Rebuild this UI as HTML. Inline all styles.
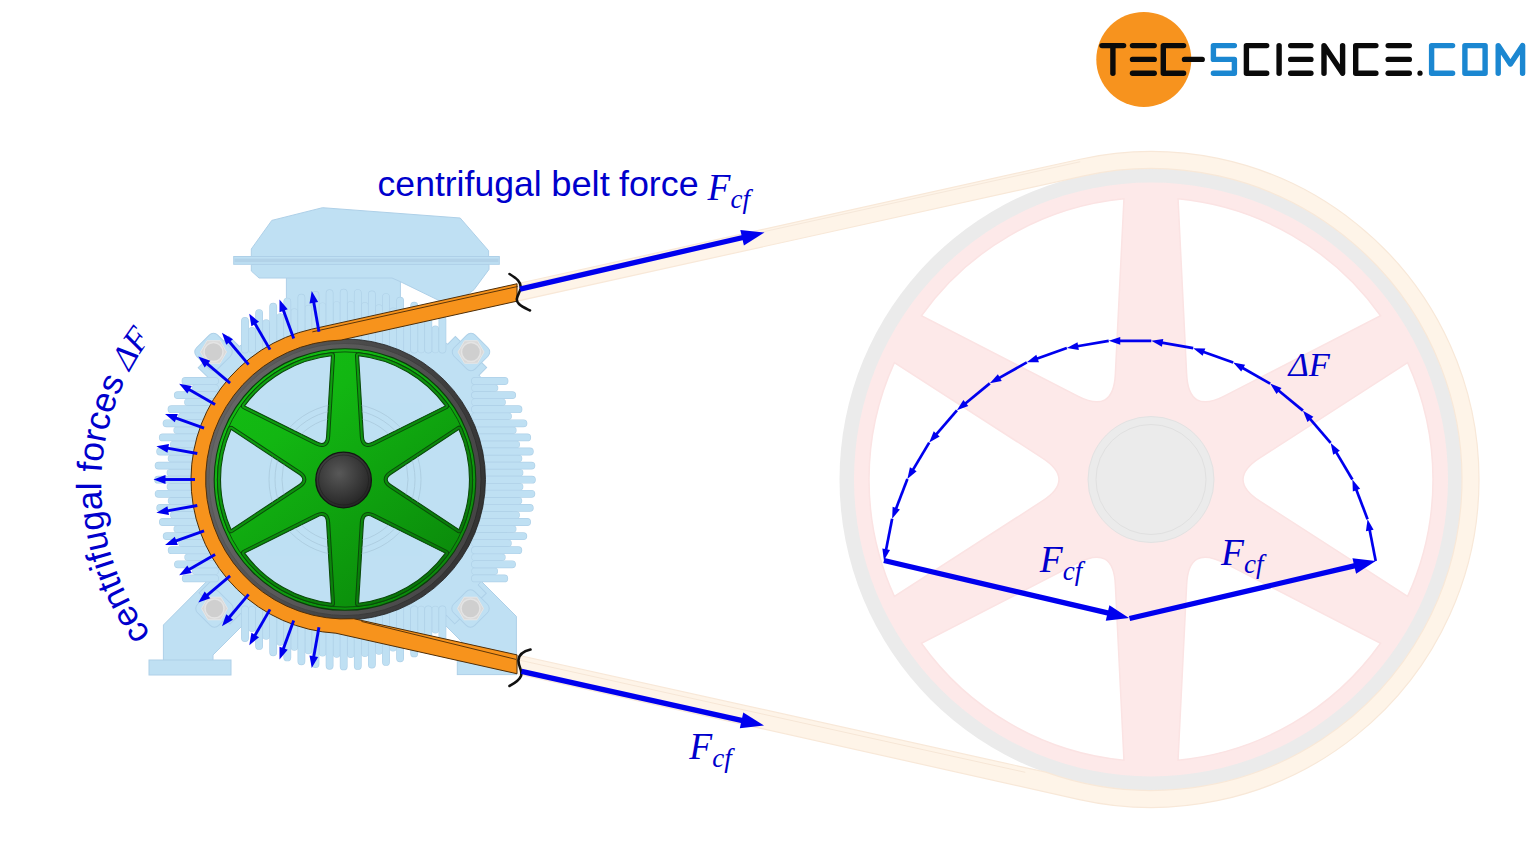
<!DOCTYPE html>
<html><head><meta charset="utf-8"><style>
html,body{margin:0;padding:0;background:#fff;}
svg{display:block;}
</style></head><body>
<svg width="1536" height="864" viewBox="0 0 1536 864">
<rect width="1536" height="864" fill="#fff"/>
<g id="bigpulley">
<circle cx="1151" cy="479.5" r="311.5" fill="#ebebeb"/>
<circle cx="1151" cy="479.5" r="297" fill="#fde9e9"/>
<path d="M1259.84,457.83 L1407.62,362.57 A282,282 0 0,1 1407.62,596.43 L1259.84,501.17 Q1226.22,479.5 1259.84,457.83Z" fill="#ffffff" stroke="#fbe3e3" stroke-width="1.5"/>
<path d="M1224.19,562.92 L1380.57,643.27 A282,282 0 0,1 1178.05,760.2 L1186.65,584.59 Q1188.61,544.64 1224.19,562.92Z" fill="#ffffff" stroke="#fbe3e3" stroke-width="1.5"/>
<path d="M1115.35,584.59 L1123.95,760.2 A282,282 0 0,1 921.43,643.27 L1077.81,562.92 Q1113.39,544.64 1115.35,584.59Z" fill="#ffffff" stroke="#fbe3e3" stroke-width="1.5"/>
<path d="M1042.16,501.17 L894.38,596.43 A282,282 0 0,1 894.38,362.57 L1042.16,457.83 Q1075.78,479.5 1042.16,501.17Z" fill="#ffffff" stroke="#fbe3e3" stroke-width="1.5"/>
<path d="M1077.81,396.08 L921.43,315.73 A282,282 0 0,1 1123.95,198.8 L1115.35,374.41 Q1113.39,414.36 1077.81,396.08Z" fill="#ffffff" stroke="#fbe3e3" stroke-width="1.5"/>
<path d="M1186.65,374.41 L1178.05,198.8 A282,282 0 0,1 1380.57,315.73 L1224.19,396.08 Q1188.61,414.36 1186.65,374.41Z" fill="#ffffff" stroke="#fbe3e3" stroke-width="1.5"/>
<circle cx="1151" cy="479.5" r="63" fill="#ebebeb" stroke="#e2e2e2" stroke-width="1"/>
<circle cx="1151" cy="479.5" r="55" fill="none" stroke="#e0e0e0" stroke-width="1"/>
</g>
<path d="M517,283.75 L1080.19,159.23 A328,328 0 1,1 1079.38,799.58 L517,673.75 L517,654.9 L1045.79,772.16 A311,311 0 1,0 1083.86,175.83 L517,301.16 Z" fill="#fef4e8" stroke="#f8e8d8" stroke-width="1.2"/>
<path d="M517,286.25 L1080.19,161.73" stroke="#f6e8da" stroke-width="1" fill="none"/>
<path d="M516,659.39 L1025.27,772.32" stroke="#f6e6d6" stroke-width="1" fill="none"/>
<g fill="#bfe0f3" stroke="#aed0e8" stroke-width="1">
<polygon points="163.4,661 163.4,625 230,558 270,598 213,655 213,661"/>
<rect x="149" y="660" width="82" height="15"/>
<polygon points="516.4,661 516.4,616.4 460,560 420,600 466,646 466,661"/>
<rect x="457.3" y="661.6" width="59.1" height="13"/>
</g>
<g fill="#bfe0f3" stroke="#aed0e8" stroke-width="1">
<rect x="286.4" y="270" width="114" height="60"/>
<polygon points="251.3,264.3 251.3,271 259,278 392,278 400,281.5 440,301 460,300 474,289.7 489,269.4 489,264.3"/>
<polygon points="251.3,256.5 251.3,249 271.8,220.4 322.5,207.7 460.2,218 488.6,250.7 488.6,256.5"/>
<rect x="233.7" y="256.5" width="265.6" height="7.8"/>
<rect x="234.5" y="258.6" width="264" height="3.6" fill="#b2d2e8" stroke="none"/>
</g>
<circle cx="345" cy="479.5" r="170" fill="#bfe0f3" stroke="#aed0e8" stroke-width="1"/>
<rect x="345" y="457.5" width="183.16" height="44" transform="rotate(-135.88 345 479.5)" fill="#bfe0f3" stroke="#aed0e8" stroke-width="1"/>
<rect x="345" y="457.5" width="179.25" height="44" transform="rotate(-45.34 345 479.5)" fill="#bfe0f3" stroke="#aed0e8" stroke-width="1"/>
<rect x="345" y="457.5" width="183.5" height="44" transform="rotate(135.33 345 479.5)" fill="#bfe0f3" stroke="#aed0e8" stroke-width="1"/>
<rect x="345" y="457.5" width="179.98" height="44" transform="rotate(45.79 345 479.5)" fill="#bfe0f3" stroke="#aed0e8" stroke-width="1"/>
<circle cx="345" cy="479.5" r="169.5" fill="#bfe0f3"/>
<path d="M252.05,349.5 L252.05,330.86 M266.15,349.5 L266.15,323.11 M280.25,349.5 L280.25,316.91 M294.35,349.5 L294.35,312.09 M308.45,349.5 L308.45,308.53 M322.55,349.5 L322.55,306.17 M336.65,349.5 L336.65,304.95 M350.75,349.5 L350.75,304.84 M364.85,349.5 L364.85,305.86 M378.95,349.5 L378.95,308.01 M393.05,349.5 L393.05,311.34 M407.15,349.5 L407.15,315.92 M421.25,349.5 L421.25,321.86 M435.35,349.5 L435.35,329.3 M252.05,609.5 L252.05,628.14 M266.15,609.5 L266.15,635.89 M280.25,609.5 L280.25,642.09 M294.35,609.5 L294.35,646.91 M308.45,609.5 L308.45,650.47 M322.55,609.5 L322.55,652.83 M336.65,609.5 L336.65,654.05 M350.75,609.5 L350.75,654.16 M364.85,609.5 L364.85,653.14 M378.95,609.5 L378.95,650.99 M393.05,609.5 L393.05,647.66 M407.15,609.5 L407.15,643.08 M421.25,609.5 L421.25,637.14 M435.35,609.5 L435.35,629.7 M215,388.05 L195.46,388.05 M215,402.15 L187.88,402.15 M215,416.25 L181.83,416.25 M215,430.35 L177.15,430.35 M215,444.45 L173.73,444.45 M215,458.55 L171.48,458.55 M215,472.65 L170.38,472.65 M215,486.75 L170.4,486.75 M215,500.85 L171.53,500.85 M215,514.95 L173.81,514.95 M215,529.05 L177.27,529.05 M215,543.15 L181.98,543.15 M215,557.25 L188.07,557.25 M215,571.35 L195.7,571.35 M475,388.05 L494.54,388.05 M475,402.15 L502.12,402.15 M475,416.25 L508.17,416.25 M475,430.35 L512.85,430.35 M475,444.45 L516.27,444.45 M475,458.55 L518.52,458.55 M475,472.65 L519.62,472.65 M475,486.75 L519.6,486.75 M475,500.85 L518.47,500.85 M475,514.95 L516.19,514.95 M475,529.05 L512.73,529.05 M475,543.15 L508.02,543.15 M475,557.25 L501.93,557.25 M475,571.35 L494.3,571.35" stroke="#b4d5ea" stroke-width="7.5" stroke-linecap="round" fill="none"/><path d="M252.05,349.5 L252.05,330.86 M266.15,349.5 L266.15,323.11 M280.25,349.5 L280.25,316.91 M294.35,349.5 L294.35,312.09 M308.45,349.5 L308.45,308.53 M322.55,349.5 L322.55,306.17 M336.65,349.5 L336.65,304.95 M350.75,349.5 L350.75,304.84 M364.85,349.5 L364.85,305.86 M378.95,349.5 L378.95,308.01 M393.05,349.5 L393.05,311.34 M407.15,349.5 L407.15,315.92 M421.25,349.5 L421.25,321.86 M435.35,349.5 L435.35,329.3 M252.05,609.5 L252.05,628.14 M266.15,609.5 L266.15,635.89 M280.25,609.5 L280.25,642.09 M294.35,609.5 L294.35,646.91 M308.45,609.5 L308.45,650.47 M322.55,609.5 L322.55,652.83 M336.65,609.5 L336.65,654.05 M350.75,609.5 L350.75,654.16 M364.85,609.5 L364.85,653.14 M378.95,609.5 L378.95,650.99 M393.05,609.5 L393.05,647.66 M407.15,609.5 L407.15,643.08 M421.25,609.5 L421.25,637.14 M435.35,609.5 L435.35,629.7 M215,388.05 L195.46,388.05 M215,402.15 L187.88,402.15 M215,416.25 L181.83,416.25 M215,430.35 L177.15,430.35 M215,444.45 L173.73,444.45 M215,458.55 L171.48,458.55 M215,472.65 L170.38,472.65 M215,486.75 L170.4,486.75 M215,500.85 L171.53,500.85 M215,514.95 L173.81,514.95 M215,529.05 L177.27,529.05 M215,543.15 L181.98,543.15 M215,557.25 L188.07,557.25 M215,571.35 L195.7,571.35 M475,388.05 L494.54,388.05 M475,402.15 L502.12,402.15 M475,416.25 L508.17,416.25 M475,430.35 L512.85,430.35 M475,444.45 L516.27,444.45 M475,458.55 L518.52,458.55 M475,472.65 L519.62,472.65 M475,486.75 L519.6,486.75 M475,500.85 L518.47,500.85 M475,514.95 L516.19,514.95 M475,529.05 L512.73,529.05 M475,543.15 L508.02,543.15 M475,557.25 L501.93,557.25 M475,571.35 L494.3,571.35" stroke="#bfe0f3" stroke-width="6.2" stroke-linecap="round" fill="none"/>
<path d="M245,349.5 L245,320.9 M259.1,349.5 L259.1,313.03 M273.2,349.5 L273.2,306.63 M287.3,349.5 L287.3,301.53 M301.4,349.5 L301.4,297.65 M315.5,349.5 L315.5,294.89 M329.6,349.5 L329.6,293.22 M343.7,349.5 L343.7,292.6 M357.8,349.5 L357.8,293.03 M371.9,349.5 L371.9,294.51 M386,349.5 L386,297.06 M400.1,349.5 L400.1,300.73 M414.2,349.5 L414.2,305.59 M428.3,349.5 L428.3,311.74 M442.4,349.5 L442.4,319.33 M245,609.5 L245,638.1 M259.1,609.5 L259.1,645.97 M273.2,609.5 L273.2,652.37 M287.3,609.5 L287.3,657.47 M301.4,609.5 L301.4,661.35 M315.5,609.5 L315.5,664.11 M329.6,609.5 L329.6,665.78 M343.7,609.5 L343.7,666.4 M357.8,609.5 L357.8,665.97 M371.9,609.5 L371.9,664.49 M386,609.5 L386,661.94 M400.1,609.5 L400.1,658.27 M414.2,609.5 L414.2,653.41 M428.3,609.5 L428.3,647.26 M442.4,609.5 L442.4,639.67 M215,381 L185.49,381 M215,395.1 L177.78,395.1 M215,409.2 L171.52,409.2 M215,423.3 L166.56,423.3 M215,437.4 L162.8,437.4 M215,451.5 L160.17,451.5 M215,465.6 L158.61,465.6 M215,479.7 L158.1,479.7 M215,493.8 L158.64,493.8 M215,507.9 L160.23,507.9 M215,522 L162.89,522 M215,536.1 L166.69,536.1 M215,550.2 L171.68,550.2 M215,564.3 L177.98,564.3 M215,578.4 L185.73,578.4 M475,381 L504.51,381 M475,395.1 L512.22,395.1 M475,409.2 L518.48,409.2 M475,423.3 L523.44,423.3 M475,437.4 L527.2,437.4 M475,451.5 L529.83,451.5 M475,465.6 L531.39,465.6 M475,479.7 L531.9,479.7 M475,493.8 L531.36,493.8 M475,507.9 L529.77,507.9 M475,522 L527.11,522 M475,536.1 L523.31,536.1 M475,550.2 L518.32,550.2 M475,564.3 L512.02,564.3 M475,578.4 L504.27,578.4" stroke="#afd1e8" stroke-width="7.8" stroke-linecap="round" fill="none"/><path d="M245,349.5 L245,320.9 M259.1,349.5 L259.1,313.03 M273.2,349.5 L273.2,306.63 M287.3,349.5 L287.3,301.53 M301.4,349.5 L301.4,297.65 M315.5,349.5 L315.5,294.89 M329.6,349.5 L329.6,293.22 M343.7,349.5 L343.7,292.6 M357.8,349.5 L357.8,293.03 M371.9,349.5 L371.9,294.51 M386,349.5 L386,297.06 M400.1,349.5 L400.1,300.73 M414.2,349.5 L414.2,305.59 M428.3,349.5 L428.3,311.74 M442.4,349.5 L442.4,319.33 M245,609.5 L245,638.1 M259.1,609.5 L259.1,645.97 M273.2,609.5 L273.2,652.37 M287.3,609.5 L287.3,657.47 M301.4,609.5 L301.4,661.35 M315.5,609.5 L315.5,664.11 M329.6,609.5 L329.6,665.78 M343.7,609.5 L343.7,666.4 M357.8,609.5 L357.8,665.97 M371.9,609.5 L371.9,664.49 M386,609.5 L386,661.94 M400.1,609.5 L400.1,658.27 M414.2,609.5 L414.2,653.41 M428.3,609.5 L428.3,647.26 M442.4,609.5 L442.4,639.67 M215,381 L185.49,381 M215,395.1 L177.78,395.1 M215,409.2 L171.52,409.2 M215,423.3 L166.56,423.3 M215,437.4 L162.8,437.4 M215,451.5 L160.17,451.5 M215,465.6 L158.61,465.6 M215,479.7 L158.1,479.7 M215,493.8 L158.64,493.8 M215,507.9 L160.23,507.9 M215,522 L162.89,522 M215,536.1 L166.69,536.1 M215,550.2 L171.68,550.2 M215,564.3 L177.98,564.3 M215,578.4 L185.73,578.4 M475,381 L504.51,381 M475,395.1 L512.22,395.1 M475,409.2 L518.48,409.2 M475,423.3 L523.44,423.3 M475,437.4 L527.2,437.4 M475,451.5 L529.83,451.5 M475,465.6 L531.39,465.6 M475,479.7 L531.9,479.7 M475,493.8 L531.36,493.8 M475,507.9 L529.77,507.9 M475,522 L527.11,522 M475,536.1 L523.31,536.1 M475,550.2 L518.32,550.2 M475,564.3 L512.02,564.3 M475,578.4 L504.27,578.4" stroke="#bfe0f3" stroke-width="6.4" stroke-linecap="round" fill="none"/>
<rect x="198.5" y="337" width="30" height="30" rx="6" transform="rotate(45 213.5 352)" fill="#bfe0f3" stroke="#aed0e8" stroke-width="1"/>
<polygon points="226.5,352 220,363.26 207,363.26 200.5,352 207,340.74 220,340.74" fill="#d9d9d9" stroke="#e6e6e6" stroke-width="1"/>
<circle cx="213.5" cy="352" r="9.5" fill="#cfcfcf" stroke="#e4e4e4" stroke-width="1.5"/>
<rect x="456" y="337" width="30" height="30" rx="6" transform="rotate(45 471 352)" fill="#bfe0f3" stroke="#aed0e8" stroke-width="1"/>
<polygon points="484,352 477.5,363.26 464.5,363.26 458,352 464.5,340.74 477.5,340.74" fill="#d9d9d9" stroke="#e6e6e6" stroke-width="1"/>
<circle cx="471" cy="352" r="9.5" fill="#cfcfcf" stroke="#e4e4e4" stroke-width="1.5"/>
<rect x="199.5" y="593.5" width="30" height="30" rx="6" transform="rotate(45 214.5 608.5)" fill="#bfe0f3" stroke="#aed0e8" stroke-width="1"/>
<polygon points="227.5,608.5 221,619.76 208,619.76 201.5,608.5 208,597.24 221,597.24" fill="#d9d9d9" stroke="#e6e6e6" stroke-width="1"/>
<circle cx="214.5" cy="608.5" r="9.5" fill="#cfcfcf" stroke="#e4e4e4" stroke-width="1.5"/>
<rect x="455.5" y="593.5" width="30" height="30" rx="6" transform="rotate(45 470.5 608.5)" fill="#bfe0f3" stroke="#aed0e8" stroke-width="1"/>
<polygon points="483.5,608.5 477,619.76 464,619.76 457.5,608.5 464,597.24 477,597.24" fill="#d9d9d9" stroke="#e6e6e6" stroke-width="1"/>
<circle cx="470.5" cy="608.5" r="9.5" fill="#cfcfcf" stroke="#e4e4e4" stroke-width="1.5"/>
<defs><linearGradient id="gG" gradientUnits="userSpaceOnUse" x1="250" y1="360" x2="440" y2="600"><stop offset="0" stop-color="#13bd13"/><stop offset="0.25" stop-color="#12b612"/><stop offset="1" stop-color="#0a860a"/></linearGradient><linearGradient id="gG2" gradientUnits="userSpaceOnUse" x1="250" y1="360" x2="440" y2="600"><stop offset="0" stop-color="#10a810"/><stop offset="1" stop-color="#087408"/></linearGradient><linearGradient id="gR" gradientUnits="userSpaceOnUse" x1="205" y1="440" x2="485" y2="520"><stop offset="0" stop-color="#676767"/><stop offset="1" stop-color="#444444"/></linearGradient><linearGradient id="gR0" gradientUnits="userSpaceOnUse" x1="205" y1="440" x2="485" y2="520"><stop offset="0" stop-color="#626262"/><stop offset="0.45" stop-color="#4a4a4a"/><stop offset="1" stop-color="#333333"/></linearGradient><linearGradient id="gRl" gradientUnits="userSpaceOnUse" x1="205" y1="440" x2="485" y2="520"><stop offset="0" stop-color="#5a5a5a"/><stop offset="1" stop-color="#262626"/></linearGradient><radialGradient id="gH" cx="0.42" cy="0.38" r="0.65"><stop offset="0" stop-color="#585858"/><stop offset="1" stop-color="#232323"/></radialGradient></defs>
<circle cx="345" cy="479.5" r="140.5" fill="url(#gR0)" stroke="#1e1e1e" stroke-width="0.8"/>
<circle cx="345" cy="479.5" r="136" fill="url(#gR)" stroke="url(#gRl)" stroke-width="0.8"/>
<circle cx="345" cy="479.5" r="130.8" fill="url(#gG)" stroke="#0a3f0a" stroke-width="1.1"/>
<circle cx="345" cy="479.5" r="127.6" fill="none" stroke="#0a4a0a" stroke-width="0.9"/>
<path d="M391.39,473.99 L458.96,429.38 A124.5,124.5 0 0,1 458.96,529.62 L391.39,485.01 Q383.05,479.5 391.39,473.99Z" fill="none" stroke="#0a4a0a" stroke-width="7.2" stroke-linejoin="round"/>
<path d="M391.39,473.99 L458.96,429.38 A124.5,124.5 0 0,1 458.96,529.62 L391.39,485.01 Q383.05,479.5 391.39,473.99Z" fill="none" stroke="url(#gG2)" stroke-width="5.2" stroke-linejoin="round"/>
<path d="M391.39,473.99 L458.96,429.38 A124.5,124.5 0 0,1 458.96,529.62 L391.39,485.01 Q383.05,479.5 391.39,473.99Z" fill="#bfe0f3" stroke="#0a4a0a" stroke-width="1.1"/>
<path d="M372.97,516.92 L445.39,553.13 A124.5,124.5 0 0,1 358.57,603.26 L363.42,522.43 Q364.02,512.45 372.97,516.92Z" fill="none" stroke="#0a4a0a" stroke-width="7.2" stroke-linejoin="round"/>
<path d="M372.97,516.92 L445.39,553.13 A124.5,124.5 0 0,1 358.57,603.26 L363.42,522.43 Q364.02,512.45 372.97,516.92Z" fill="none" stroke="url(#gG2)" stroke-width="5.2" stroke-linejoin="round"/>
<path d="M372.97,516.92 L445.39,553.13 A124.5,124.5 0 0,1 358.57,603.26 L363.42,522.43 Q364.02,512.45 372.97,516.92Z" fill="#bfe0f3" stroke="#0a4a0a" stroke-width="1.1"/>
<path d="M326.58,522.43 L331.43,603.26 A124.5,124.5 0 0,1 244.61,553.13 L317.03,516.92 Q325.98,512.45 326.58,522.43Z" fill="none" stroke="#0a4a0a" stroke-width="7.2" stroke-linejoin="round"/>
<path d="M326.58,522.43 L331.43,603.26 A124.5,124.5 0 0,1 244.61,553.13 L317.03,516.92 Q325.98,512.45 326.58,522.43Z" fill="none" stroke="url(#gG2)" stroke-width="5.2" stroke-linejoin="round"/>
<path d="M326.58,522.43 L331.43,603.26 A124.5,124.5 0 0,1 244.61,553.13 L317.03,516.92 Q325.98,512.45 326.58,522.43Z" fill="#bfe0f3" stroke="#0a4a0a" stroke-width="1.1"/>
<path d="M298.61,485.01 L231.04,529.62 A124.5,124.5 0 0,1 231.04,429.38 L298.61,473.99 Q306.95,479.5 298.61,485.01Z" fill="none" stroke="#0a4a0a" stroke-width="7.2" stroke-linejoin="round"/>
<path d="M298.61,485.01 L231.04,529.62 A124.5,124.5 0 0,1 231.04,429.38 L298.61,473.99 Q306.95,479.5 298.61,485.01Z" fill="none" stroke="url(#gG2)" stroke-width="5.2" stroke-linejoin="round"/>
<path d="M298.61,485.01 L231.04,529.62 A124.5,124.5 0 0,1 231.04,429.38 L298.61,473.99 Q306.95,479.5 298.61,485.01Z" fill="#bfe0f3" stroke="#0a4a0a" stroke-width="1.1"/>
<path d="M317.03,442.08 L244.61,405.87 A124.5,124.5 0 0,1 331.43,355.74 L326.58,436.57 Q325.98,446.55 317.03,442.08Z" fill="none" stroke="#0a4a0a" stroke-width="7.2" stroke-linejoin="round"/>
<path d="M317.03,442.08 L244.61,405.87 A124.5,124.5 0 0,1 331.43,355.74 L326.58,436.57 Q325.98,446.55 317.03,442.08Z" fill="none" stroke="url(#gG2)" stroke-width="5.2" stroke-linejoin="round"/>
<path d="M317.03,442.08 L244.61,405.87 A124.5,124.5 0 0,1 331.43,355.74 L326.58,436.57 Q325.98,446.55 317.03,442.08Z" fill="#bfe0f3" stroke="#0a4a0a" stroke-width="1.1"/>
<path d="M363.42,436.57 L358.57,355.74 A124.5,124.5 0 0,1 445.39,405.87 L372.97,442.08 Q364.02,446.55 363.42,436.57Z" fill="none" stroke="#0a4a0a" stroke-width="7.2" stroke-linejoin="round"/>
<path d="M363.42,436.57 L358.57,355.74 A124.5,124.5 0 0,1 445.39,405.87 L372.97,442.08 Q364.02,446.55 363.42,436.57Z" fill="none" stroke="url(#gG2)" stroke-width="5.2" stroke-linejoin="round"/>
<path d="M363.42,436.57 L358.57,355.74 A124.5,124.5 0 0,1 445.39,405.87 L372.97,442.08 Q364.02,446.55 363.42,436.57Z" fill="#bfe0f3" stroke="#0a4a0a" stroke-width="1.1"/>
<clipPath id="winclip"><path d="M391.39,473.99 L458.96,429.38 A124.5,124.5 0 0,1 458.96,529.62 L391.39,485.01 Q383.05,479.5 391.39,473.99Z M372.97,516.92 L445.39,553.13 A124.5,124.5 0 0,1 358.57,603.26 L363.42,522.43 Q364.02,512.45 372.97,516.92Z M326.58,522.43 L331.43,603.26 A124.5,124.5 0 0,1 244.61,553.13 L317.03,516.92 Q325.98,512.45 326.58,522.43Z M298.61,485.01 L231.04,529.62 A124.5,124.5 0 0,1 231.04,429.38 L298.61,473.99 Q306.95,479.5 298.61,485.01Z M317.03,442.08 L244.61,405.87 A124.5,124.5 0 0,1 331.43,355.74 L326.58,436.57 Q325.98,446.55 317.03,442.08Z M363.42,436.57 L358.57,355.74 A124.5,124.5 0 0,1 445.39,405.87 L372.97,442.08 Q364.02,446.55 363.42,436.57Z"/></clipPath>
<g fill="none" stroke="#9fbdd2" stroke-width="0.9" opacity="0.6" clip-path="url(#winclip)">
<circle cx="345" cy="479.5" r="63"/>
<circle cx="345" cy="479.5" r="70"/>
<circle cx="345" cy="479.5" r="76"/>
</g>
<circle cx="343.6" cy="480" r="27.8" fill="url(#gH)" stroke="#141414" stroke-width="1.3"/>
<circle cx="343.6" cy="480" r="25" fill="none" stroke="#1a1a1a" stroke-width="0.8" opacity="0.6"/>
<path d="M517,283.75 L311.75,329.13 A154,154 0 0,0 335.95,633.23 L517,673.75 L517,654.9 L353.85,618.72 A139.5,139.5 0 1,1 341.1,340.05 L517,301.16 Z" fill="#f7931c" stroke="#4f2e08" stroke-width="1"/>
<path d="M312.36,331.87 L517.6,286.49 M361.45,621.43 L516,659.39" stroke="#5e3608" stroke-width="1" fill="none"/>
<path d="M509.5,274 C516,278 522,282 520.5,289 C519,295 514,299 519,304 C522,307 527,309 530,310.5" stroke="#111" stroke-width="2.6" fill="none" stroke-linecap="round"/>
<path d="M530.5,649.5 C524,651 519,654 518.5,660 C518,667 523,670 521,676 C519,681 513,684 509.5,686" stroke="#111" stroke-width="2.6" fill="none" stroke-linecap="round"/>
<line x1="318.95" y1="627.22" x2="313.66" y2="657.26" stroke="#0000ee" stroke-width="2.9"/><polygon points="311.75,668.09 309.5,655.51 318.16,657.04" fill="#0000ee"/>
<line x1="293.7" y1="620.45" x2="283.27" y2="649.11" stroke="#0000ee" stroke-width="2.9"/><polygon points="279.5,659.45 279.47,646.67 287.74,649.68" fill="#0000ee"/>
<line x1="270" y1="609.4" x2="254.75" y2="635.82" stroke="#0000ee" stroke-width="2.9"/><polygon points="249.25,645.34 251.44,632.75 259.06,637.15" fill="#0000ee"/>
<line x1="248.58" y1="594.41" x2="228.98" y2="617.77" stroke="#0000ee" stroke-width="2.9"/><polygon points="221.91,626.2 226.25,614.18 232.99,619.83" fill="#0000ee"/>
<line x1="230.09" y1="575.92" x2="206.73" y2="595.52" stroke="#0000ee" stroke-width="2.9"/><polygon points="198.3,602.59 204.67,591.51 210.32,598.25" fill="#0000ee"/>
<line x1="215.1" y1="554.5" x2="188.68" y2="569.75" stroke="#0000ee" stroke-width="2.9"/><polygon points="179.16,575.25 187.35,565.44 191.75,573.06" fill="#0000ee"/>
<line x1="204.05" y1="530.8" x2="175.39" y2="541.23" stroke="#0000ee" stroke-width="2.9"/><polygon points="165.05,545 174.82,536.76 177.83,545.03" fill="#0000ee"/>
<line x1="197.28" y1="505.55" x2="167.24" y2="510.84" stroke="#0000ee" stroke-width="2.9"/><polygon points="156.41,512.75 167.46,506.34 168.99,515" fill="#0000ee"/>
<line x1="195" y1="479.5" x2="164.5" y2="479.5" stroke="#0000ee" stroke-width="2.9"/><polygon points="153.5,479.5 165.5,475.1 165.5,483.9" fill="#0000ee"/>
<line x1="197.28" y1="453.45" x2="167.24" y2="448.16" stroke="#0000ee" stroke-width="2.9"/><polygon points="156.41,446.25 168.99,444 167.46,452.66" fill="#0000ee"/>
<line x1="204.05" y1="428.2" x2="175.39" y2="417.77" stroke="#0000ee" stroke-width="2.9"/><polygon points="165.05,414 177.83,413.97 174.82,422.24" fill="#0000ee"/>
<line x1="215.1" y1="404.5" x2="188.68" y2="389.25" stroke="#0000ee" stroke-width="2.9"/><polygon points="179.16,383.75 191.75,385.94 187.35,393.56" fill="#0000ee"/>
<line x1="230.09" y1="383.08" x2="206.73" y2="363.48" stroke="#0000ee" stroke-width="2.9"/><polygon points="198.3,356.41 210.32,360.75 204.67,367.49" fill="#0000ee"/>
<line x1="248.58" y1="364.59" x2="228.98" y2="341.23" stroke="#0000ee" stroke-width="2.9"/><polygon points="221.91,332.8 232.99,339.17 226.25,344.82" fill="#0000ee"/>
<line x1="270" y1="349.6" x2="254.75" y2="323.18" stroke="#0000ee" stroke-width="2.9"/><polygon points="249.25,313.66 259.06,321.85 251.44,326.25" fill="#0000ee"/>
<line x1="293.7" y1="338.55" x2="283.27" y2="309.89" stroke="#0000ee" stroke-width="2.9"/><polygon points="279.5,299.55 287.74,309.32 279.47,312.33" fill="#0000ee"/>
<line x1="318.95" y1="331.78" x2="313.66" y2="301.74" stroke="#0000ee" stroke-width="2.9"/><polygon points="311.75,290.91 318.16,301.96 309.5,303.49" fill="#0000ee"/>
<line x1="520" y1="289.1" x2="743.07" y2="237.46" stroke="#0000ee" stroke-width="5.3"/><polygon points="764.5,232.5 743.9,245.48 740.29,229.89" fill="#0000ee"/>
<line x1="521.5" y1="671.3" x2="742.53" y2="720.61" stroke="#0000ee" stroke-width="5.3"/><polygon points="764,725.4 739.81,728.2 743.29,712.58" fill="#0000ee"/>
<line x1="1375.7" y1="560.92" x2="1369.57" y2="529.49" stroke="#0000ee" stroke-width="2.7"/><polygon points="1367.56,519.18 1373.59,529.72 1365.93,531.21" fill="#0000ee"/>
<line x1="1367.56" y1="519.18" x2="1356.14" y2="489.26" stroke="#0000ee" stroke-width="2.7"/><polygon points="1352.39,479.45 1360.14,488.8 1352.85,491.59" fill="#0000ee"/>
<line x1="1352.39" y1="479.45" x2="1336.01" y2="451.93" stroke="#0000ee" stroke-width="2.7"/><polygon points="1330.64,442.91 1339.87,450.79 1333.17,454.78" fill="#0000ee"/>
<line x1="1330.64" y1="442.91" x2="1309.79" y2="418.6" stroke="#0000ee" stroke-width="2.7"/><polygon points="1302.95,410.63 1313.4,416.82 1307.48,421.9" fill="#0000ee"/>
<line x1="1302.95" y1="410.63" x2="1278.24" y2="390.26" stroke="#0000ee" stroke-width="2.7"/><polygon points="1270.14,383.58 1281.49,387.88 1276.53,393.9" fill="#0000ee"/>
<line x1="1270.14" y1="383.58" x2="1242.3" y2="367.74" stroke="#0000ee" stroke-width="2.7"/><polygon points="1233.18,362.54 1245.1,364.84 1241.24,371.62" fill="#0000ee"/>
<line x1="1233.18" y1="362.54" x2="1203.04" y2="351.71" stroke="#0000ee" stroke-width="2.7"/><polygon points="1193.16,348.15 1205.3,348.38 1202.66,355.72" fill="#0000ee"/>
<line x1="1193.16" y1="348.15" x2="1161.61" y2="342.64" stroke="#0000ee" stroke-width="2.7"/><polygon points="1151.27,340.83 1163.27,338.97 1161.92,346.65" fill="#0000ee"/>
<line x1="1151.27" y1="340.83" x2="1119.24" y2="340.81" stroke="#0000ee" stroke-width="2.7"/><polygon points="1108.74,340.8 1120.24,336.91 1120.24,344.71" fill="#0000ee"/>
<line x1="1108.74" y1="340.8" x2="1077.18" y2="346.26" stroke="#0000ee" stroke-width="2.7"/><polygon points="1066.84,348.05 1077.5,342.25 1078.83,349.93" fill="#0000ee"/>
<line x1="1066.84" y1="348.05" x2="1036.68" y2="358.84" stroke="#0000ee" stroke-width="2.7"/><polygon points="1026.79,362.37 1036.31,354.83 1038.94,362.17" fill="#0000ee"/>
<line x1="1026.79" y1="362.37" x2="998.93" y2="378.17" stroke="#0000ee" stroke-width="2.7"/><polygon points="989.8,383.34 997.88,374.28 1001.73,381.07" fill="#0000ee"/>
<line x1="989.8" y1="383.34" x2="965.06" y2="403.68" stroke="#0000ee" stroke-width="2.7"/><polygon points="956.94,410.34 963.35,400.03 968.3,406.06" fill="#0000ee"/>
<line x1="956.94" y1="410.34" x2="936.05" y2="434.62" stroke="#0000ee" stroke-width="2.7"/><polygon points="929.2,442.57 933.75,431.32 939.66,436.4" fill="#0000ee"/>
<line x1="929.2" y1="442.57" x2="912.77" y2="470.07" stroke="#0000ee" stroke-width="2.7"/><polygon points="907.39,479.08 909.94,467.21 916.63,471.21" fill="#0000ee"/>
<line x1="907.39" y1="479.08" x2="895.91" y2="508.98" stroke="#0000ee" stroke-width="2.7"/><polygon points="892.15,518.79 892.63,506.65 899.91,509.45" fill="#0000ee"/>
<line x1="892.15" y1="518.79" x2="885.97" y2="550.21" stroke="#0000ee" stroke-width="2.7"/><polygon points="883.94,560.51 882.34,548.48 889.99,549.98" fill="#0000ee"/>
<line x1="883.94" y1="560.51" x2="1108.56" y2="613.2" stroke="#0000ee" stroke-width="5.3"/><polygon points="1129,618 1105.75,620.76 1109.41,605.19" fill="#0000ee"/>
<line x1="1129.5" y1="618.5" x2="1355.25" y2="565.7" stroke="#0000ee" stroke-width="5.3"/><polygon points="1375.7,560.92 1356.1,573.72 1352.46,558.14" fill="#0000ee"/>
<g font-family="Liberation Sans, sans-serif" font-size="35" fill="#0000cc">
<text x="377.6" y="196" textLength="164" lengthAdjust="spacingAndGlyphs">centrifugal</text>
<text x="551.2" y="196" textLength="58.6" lengthAdjust="spacingAndGlyphs">belt</text>
<text x="619" y="196" textLength="79.6" lengthAdjust="spacingAndGlyphs">force</text>
</g>
<text x="707.5" y="200" font-family="Liberation Serif, serif" font-style="italic" font-size="37.5" fill="#0000cc">F<tspan font-size="27" dy="7.5">cf</tspan></text>
<text x="689.3" y="759" font-family="Liberation Serif, serif" font-style="italic" font-size="37.5" fill="#0000cc">F<tspan font-size="27" dy="7.5">cf</tspan></text>
<text x="1039.8" y="572" font-family="Liberation Serif, serif" font-style="italic" font-size="37.5" fill="#0000cc">F<tspan font-size="27" dy="7.5">cf</tspan></text>
<text x="1221" y="565" font-family="Liberation Serif, serif" font-style="italic" font-size="37.5" fill="#0000cc">F<tspan font-size="27" dy="7.5">cf</tspan></text>
<text x="1288.5" y="375.6" font-family="Liberation Serif, serif" font-style="italic" font-size="34.5" fill="#0000cc">&#916;F</text>
<path id="arcT" d="M 151.07,633.95 A 244.7,244.7 0 0,1 205.55,285.45" fill="none"/>
<text font-family="Liberation Sans, sans-serif" font-size="35.2" fill="#0000cc"><textPath href="#arcT">centrifugal forces <tspan font-family="Liberation Serif, serif" font-style="italic" font-size="34">&#916;F</tspan></textPath></text>
<circle cx="1143.8" cy="59.4" r="47.5" fill="#f7931e"/><g fill="none" stroke-width="5.4" stroke-linecap="round" stroke-linejoin="round"><polyline points="1102,45.6 1123.6,45.6" stroke="#0a0a0a"/><polyline points="1112.9,45.6 1112.9,73.2" stroke="#0a0a0a"/><polyline points="1132.5,45.6 1154.2,45.6" stroke="#0a0a0a"/><polyline points="1132.5,59.4 1154.2,59.4" stroke="#0a0a0a"/><polyline points="1132.5,73.2 1154.2,73.2" stroke="#0a0a0a"/><polyline points="1183.6,45.6 1163.3,45.6 1163.3,73.2 1183.6,73.2" stroke="#0a0a0a"/><polyline points="1184.5,59.4 1202.2,59.4" stroke="#0a0a0a"/><polyline points="1234.4,45.6 1213.4,45.6 1213.4,59.4 1234.4,59.4 1234.4,73.2 1213.4,73.2" stroke="#1b87d1"/><polyline points="1266.7,45.6 1246.4,45.6 1246.4,73.2 1266.7,73.2" stroke="#0a0a0a"/><polyline points="1279.1,45.6 1279.1,73.2" stroke="#0a0a0a"/><polyline points="1290.7,45.6 1310.9,45.6" stroke="#0a0a0a"/><polyline points="1290.7,59.4 1310.9,59.4" stroke="#0a0a0a"/><polyline points="1290.7,73.2 1310.9,73.2" stroke="#0a0a0a"/><polyline points="1324,73.2 1324,45.6 1342.6,73.2 1342.6,45.6" stroke="#0a0a0a"/><polyline points="1375.9,45.6 1355.7,45.6 1355.7,73.2 1375.9,73.2" stroke="#0a0a0a"/><polyline points="1388.2,45.6 1409.3,45.6" stroke="#0a0a0a"/><polyline points="1388.2,59.4 1409.3,59.4" stroke="#0a0a0a"/><polyline points="1388.2,73.2 1409.3,73.2" stroke="#0a0a0a"/><circle cx="1420" cy="73.2" r="2.6" fill="#0a0a0a" stroke="none"/><polyline points="1452.6,45.6 1431.6,45.6 1431.6,73.2 1452.6,73.2" stroke="#1b87d1"/><rect x="1464.9" y="45.6" width="20.2" height="27.6" fill="none" stroke="#1b87d1"/><polyline points="1498.2,73.2 1498.2,45.6 1510.4,64 1522.6,45.6 1522.6,73.2" stroke="#1b87d1"/></g>
</svg>
</body></html>
